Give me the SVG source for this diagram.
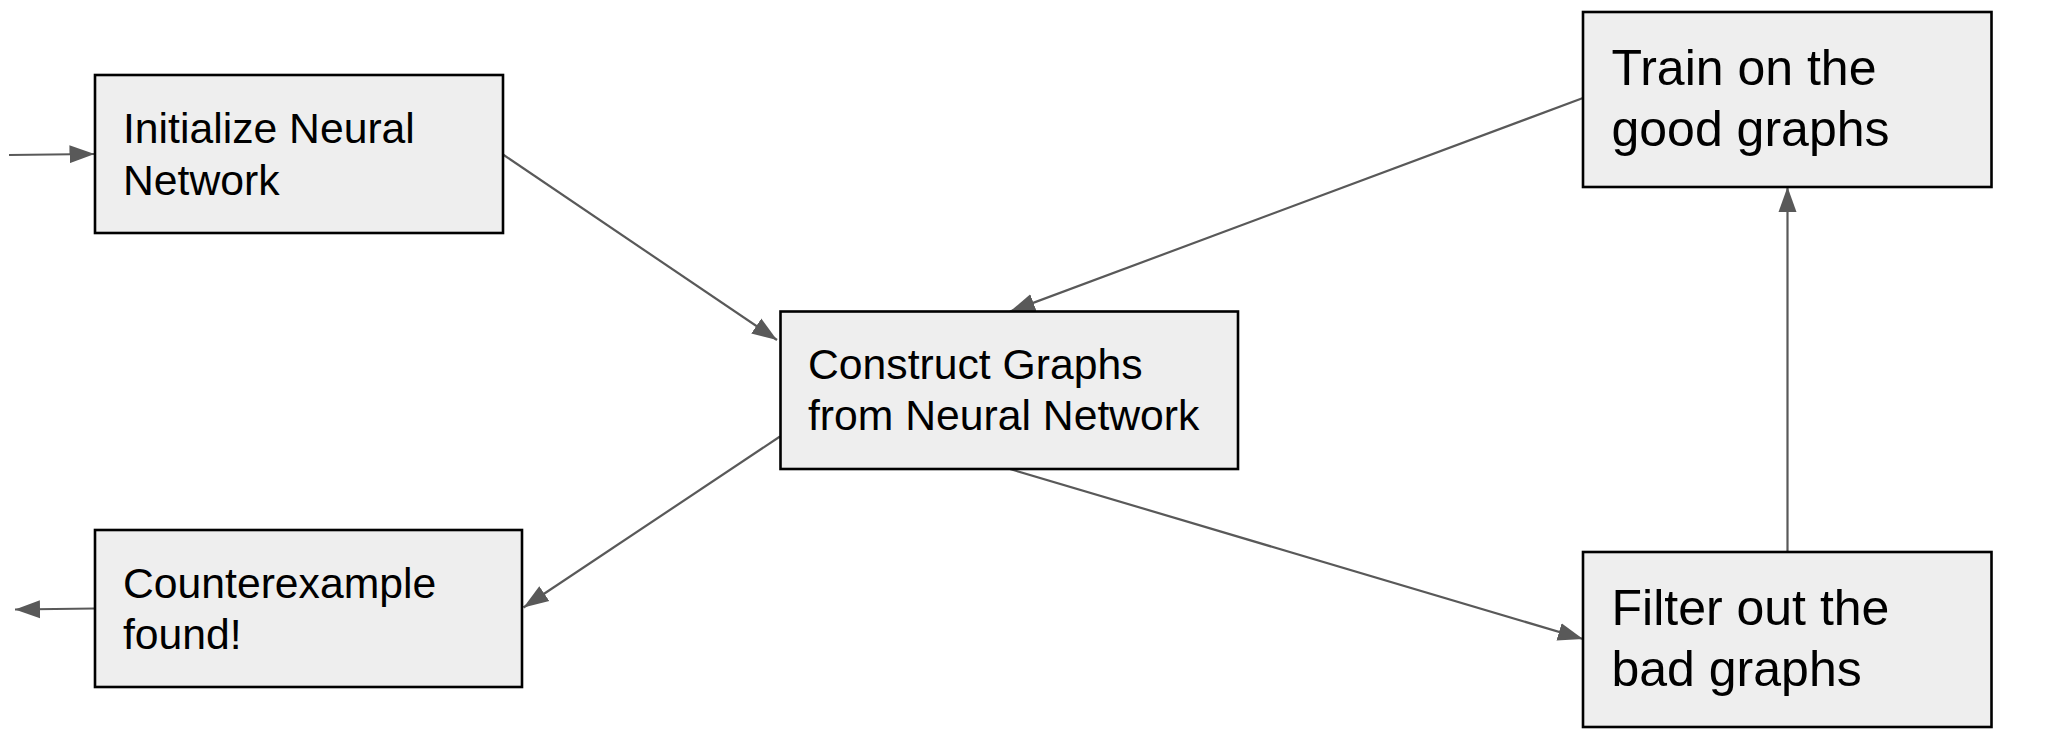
<svg xmlns="http://www.w3.org/2000/svg" width="2050" height="750" viewBox="0 0 2050 750">
<style>
.box{fill:#eeeeee;stroke:#000000;stroke-width:2.6}
.t{font-family:"Liberation Sans",Arial,sans-serif;font-size:42.7px;fill:#000000}
.tl{font-family:"Liberation Sans",Arial,sans-serif;font-size:50px;fill:#000000}
.c{fill:none;stroke:#595959;stroke-width:2.2}
</style>
<defs>
<marker id="ah" markerUnits="userSpaceOnUse" markerWidth="26" markerHeight="20" viewBox="0 0 26 20" refX="25" refY="10" orient="auto">
<path d="M0,1 L25,10 L0,19 z" fill="#595959"/>
</marker>
</defs>
<rect width="2050" height="750" fill="#ffffff"/>
<g id="connectors">
<line class="c" x1="9" y1="155" x2="94.5" y2="154" marker-end="url(#ah)"/>
<line class="c" x1="503" y1="154.5" x2="777" y2="340" marker-end="url(#ah)"/>
<line class="c" x1="1583" y1="98" x2="1010" y2="311.5" marker-end="url(#ah)"/>
<line class="c" x1="780" y1="436.5" x2="523.5" y2="607.5" marker-end="url(#ah)"/>
<line class="c" x1="95" y1="608.5" x2="15" y2="609.5" marker-end="url(#ah)"/>
<line class="c" x1="1010" y1="469" x2="1583" y2="639" marker-end="url(#ah)"/>
<line class="c" x1="1787.5" y1="552" x2="1787.5" y2="187" marker-end="url(#ah)"/>
</g>
<g id="init">
<rect class="box" x="95" y="75" width="408" height="158"/>
<text class="t" x="123" y="143">Initialize Neural</text>
<text class="t" x="123" y="194.5">Network</text>
</g>
<g id="counter">
<rect class="box" x="95" y="530" width="427" height="157"/>
<text class="t" x="123" y="598">Counterexample</text>
<text class="t" x="123" y="649">found!</text>
</g>
<g id="construct">
<rect class="box" x="780.5" y="311.5" width="457.5" height="157.5"/>
<text class="t" x="808" y="379">Construct Graphs</text>
<text class="t" x="808" y="429.5">from Neural Network</text>
</g>
<g id="train">
<rect class="box" x="1583" y="12" width="408.5" height="175"/>
<text class="tl" x="1611.5" y="85">Train on the</text>
<text class="tl" x="1611.5" y="145.5">good graphs</text>
</g>
<g id="filter">
<rect class="box" x="1583" y="552" width="408.5" height="175"/>
<text class="tl" x="1611.5" y="625">Filter out the</text>
<text class="tl" x="1611.5" y="685.5">bad graphs</text>
</g>
</svg>
